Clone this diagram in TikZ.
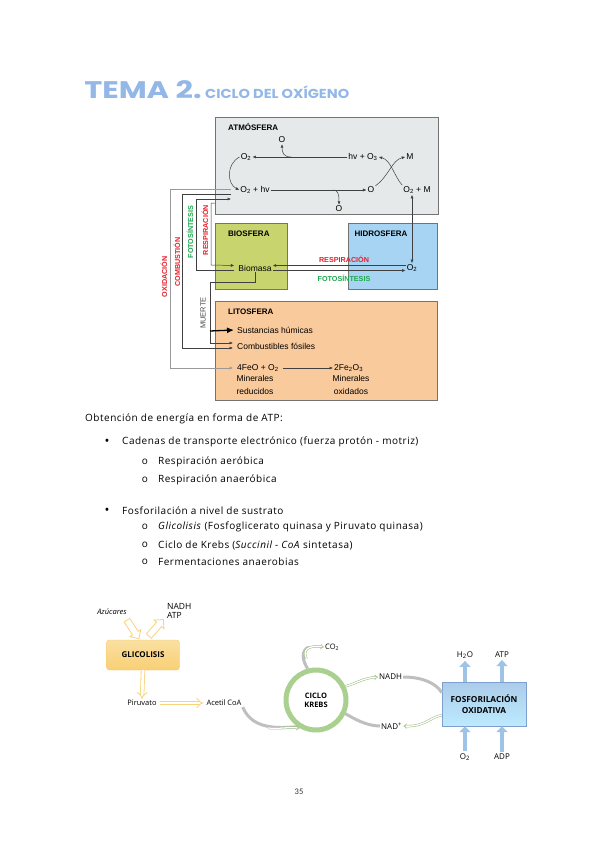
\documentclass[tikz,border=0pt]{standalone}
\usepackage{fontspec}
\setmainfont{Open Sans}
\newfontfamily\bodyfont{Open Sans}[LetterSpace=5]
\newfontfamily\lsans{Liberation Sans}
\newfontfamily\tfont{Poppins}
\newfontfamily\cfont{Carlito}
\usetikzlibrary{arrows.meta,calc,shapes.arrows}
\definecolor{atmfill}{HTML}{E6E9E9}
\definecolor{biofill}{HTML}{C8D56E}
\definecolor{hidfill}{HTML}{A6D4F2}
\definecolor{litfill}{HTML}{F9CA9C}
\definecolor{labred}{HTML}{E8202A}
\definecolor{labgreen}{HTML}{1FA84F}
\definecolor{ttl}{HTML}{93B7E6}
\definecolor{yel}{HTML}{F8D37A}
\definecolor{krg}{HTML}{A9D08E}
\definecolor{blu}{HTML}{9DC3E6}
\definecolor{bluedge}{HTML}{7F9FCF}
\begin{document}
\begin{tikzpicture}[x=1pt,y=-1pt,
  fs/.style={font=\lsans\fontsize{8.5}{10}\selectfont, inner sep=1pt},
  fsb/.style={font=\lsans\bfseries\fontsize{8}{9}\selectfont, inner sep=1pt},
  redl/.style={font=\lsans\bfseries\fontsize{7.2}{8}\selectfont, text=labred, inner sep=1pt},
  grnl/.style={font=\lsans\bfseries\fontsize{7.2}{8}\selectfont, text=labgreen, inner sep=1pt},
  sbox/.style={draw=black!55, line width=0.6pt, fill=#1, anchor=north west, inner sep=0pt},
  arr/.style={draw=black!75, line width=0.5pt, -{Latex[length=3.5pt,width=3pt]}},
  garrl/.style={draw=black!40, line width=0.5pt, -{Latex[length=3.5pt,width=3pt]}},
  body/.style={font=\bodyfont\fontsize{10}{12}\selectfont, inner sep=0pt, anchor=west},
  bul/.style={font=\bodyfont\fontsize{10}{12}\selectfont, inner sep=0pt},
  small/.style={font=\fontsize{7.5}{9}\selectfont, inner sep=1pt},
  yarr/.style={draw=yel, double=white, double distance=#1, line width=0.8pt, -{Implies}},
  yblock/.style={single arrow, draw=yel, line width=0.8pt, fill=white, minimum height=22pt, minimum width=13pt, single arrow head extend=3pt, inner sep=2.8pt},
  band/.style={draw=black!25, line width=3pt},
  grr/.style={draw=krg!90!black, double=white, double distance=1.3pt, line width=0.5pt, -{Implies}},
  barr/.style={draw=blu, line width=4.5pt, -{Triangle[length=6pt,width=11pt]}}
]
\useasboundingbox (0,0) rectangle (599,848);
\fill[white] (0,0) rectangle (599,848);

% ---------- title
\node[anchor=west, inner sep=0pt, xscale=1.27, font=\tfont\bfseries\fontsize{24}{26}\selectfont, text=ttl] (t1) at (84,90) {TEMA 2.};
\node[anchor=west, inner sep=0pt, xscale=1.12, font=\tfont\bfseries\fontsize{13}{15}\selectfont, text=ttl] (t2) at (205,92) {CICLO DEL OXÍGENO};

% ---------- spheres
\node[sbox=atmfill, minimum width=223pt, minimum height=97pt] (atm) at (215,117) {};
\node[sbox=biofill, minimum width=72pt, minimum height=66pt] (bio) at (215,223) {};
\node[sbox=hidfill, minimum width=89pt, minimum height=66pt] (hid) at (348,223) {};
\node[sbox=litfill, minimum width=222pt, minimum height=99pt] (lit) at (215,301) {};

\node[fsb, anchor=west] (atmL) at (227,127) {ATMÓSFERA};
\node[fsb, anchor=west] (bioL) at (227,234) {BIOSFERA};
\node[fsb] (hidL) at (381,234) {HIDROSFERA};
\node[fsb, anchor=west] (litL) at (227,312) {LITOSFERA};

% atmosphere content
\node[fs] (oA) at (282,140) {O};
\node[fs] (o2a) at (246,157) {O\textsubscript{2}};
\node[fs] (hvo3) at (363,157) {hv + O\textsubscript{3}};
\node[fs] (mA) at (410,157) {M};
\node[fs] (o2hv) at (255,190) {O\textsubscript{2} + hv};
\node[fs] (oB) at (371,190) {O};
\node[fs] (o2m) at (417,190) {O\textsubscript{2} + M};
\node[fs] (oC) at (339,209) {O};

\draw[arr] (hvo3.west) -- (o2a.east);
\coordinate (br1) at (291,157);
\draw[arr] (br1) .. controls (284,157) and (282,153) .. (oA.south);
\draw[arr] (o2a.west) .. controls (226,164) and (227,184) .. (o2hv.west);
\draw[arr] (o2hv.east) -- (oB.west);
\coordinate (br2) at (333,190);
\draw[arr] (br2) .. controls (338,190) and (339,194) .. (oC.north);
\draw[arr] (oB.north east) .. controls (389,176) and (392,160) .. (mA.west);
\draw[arr] (o2m.north west) .. controls (394,176) and (391,160) .. (hvo3.east);

% biosphere / hydrosphere
\node[fs] (biom) at (255,268) {Biomasa};
\node[fs] (o2h) at (412,268) {O\textsubscript{2}};
\draw[{Latex[length=3.5pt,width=3pt]}-{Latex[length=3.5pt,width=3pt]}, draw=black!75, line width=0.5pt] (o2h.north) -- (o2h.north |- o2m.south);
\draw[arr] ([yshift=2.5pt]o2h.west) -- ([yshift=2.5pt]biom.east);
\draw[arr] ([yshift=-2.5pt]biom.east) -- ([yshift=-2.5pt]o2h.west);
\node[redl] (respH) at (344,259) {RESPIRACIÓN};
\node[grnl] (fotoH) at (344,278) {FOTOSÍNTESIS};

% lithosphere content
\node[fs, anchor=west] (hum) at (236,330) {Sustancias húmicas};
\node[fs, anchor=west] (comb) at (236,346) {Combustibles fósiles};
\node[fs, anchor=west] (fe) at (236,368) {4FeO + O\textsubscript{2}};
\node[fs, anchor=west] (fe2) at (333,368) {2Fe\textsubscript{2}O\textsubscript{3}};
\draw[arr] ([xshift=3pt]fe.east) -- (fe2.west);
\node[fs, align=center, font=\lsans\fontsize{8.5}{12.5}\selectfont] (minr) at (255,385) {Minerales\\reducidos};
\node[fs, align=center, font=\lsans\fontsize{8.5}{12.5}\selectfont] (mino) at (351,385) {Minerales\\oxidados};

% side connectors
\coordinate (oxs) at (231,189);
\coordinate (cbs) at (231,194);
\coordinate (fts) at (231,199);
\coordinate (rss) at (215,203);
\draw[garrl] (oxs) -| (170,368) -- ([xshift=-3pt]fe.west);
\draw[arr] (cbs) -| (182,348) -- ([xshift=-3pt,yshift=-2pt]comb.west);
\draw[arr] ([xshift=-3pt,yshift=-2.5pt]biom.west) -| (196,199) -- (fts);
\draw[arr] (rss) -| (211,265) -- ([xshift=-3pt,yshift=2.5pt]biom.west);
\draw[arr] (biom.south) |- (210,282) |- ([xshift=-3pt,yshift=3pt]comb.west);
\draw[draw=black, line width=1.3pt, -{Latex[length=7pt,width=6pt]}] (210,331) -- ([xshift=-2pt]hum.west);

\node[redl, rotate=90] (oxL) at (164,277) {OXIDACIÓN};
\node[redl, rotate=90] (cbL) at (177,262) {COMBUSTIÓN};
\node[grnl, rotate=90] (ftL) at (190,232) {FOTOSÍNTESIS};
\node[redl, rotate=90] (rsL) at (205,230) {RESPIRACIÓN};
\node[fs, rotate=90, text=black!70, font=\lsans\fontsize{7.5}{9}\selectfont] (mtL) at (203,313) {MUERTE};

% ---------- body text
\node[body] (p0) at (85,419) {Obtención de energía en forma de ATP:};
\node[bul, font=\fontsize{13}{13}\selectfont] (u1) at (107,442) {•};
\node[body] (p1) at (122,442) {Cadenas de transporte electrónico (fuerza protón - motriz)};
\node[bul] (u2) at (145,462) {o};
\node[body] (p2) at (158,462) {Respiración aeróbica};
\node[bul] (u3) at (145,480) {o};
\node[body] (p3) at (158,480) {Respiración anaeróbica};
\node[bul, font=\fontsize{13}{13}\selectfont] (u4) at (107,511) {•};
\node[body] (p4) at (122,511) {Fosforilación a nivel de sustrato};
\node[bul] (u5) at (145,527) {o};
\node[body] (p5) at (158,527) {\textit{Glicolisis} (Fosfoglicerato quinasa y Piruvato quinasa)};
\node[bul] (u6) at (145,545) {o};
\node[body] (p6) at (158,545) {Ciclo de Krebs (\textit{Succinil - CoA} sintetasa)};
\node[bul] (u7) at (145,562) {o};
\node[body] (p7) at (158,562) {Fermentaciones anaerobias};

% ---------- bottom diagram
\node[small, font=\itshape\fontsize{7.5}{8}\selectfont] (azu) at (112,612) {Azúcares};
\node[small, anchor=west, align=left, font=\fontsize{8.5}{9.5}\selectfont] (nat) at (166,611) {NADH\\ATP};
\node[draw=yel!90!orange, rounded corners=3pt, top color=yel!70, bottom color=yel!95!orange, minimum width=73pt, minimum height=30pt, font=\bfseries\fontsize{8}{9}\selectfont] (glic) at (143,655) {GLICOLISIS};
\node[yblock, rotate=-57] (ya1) at (132,628) {};
\node[yblock, rotate=49] (ya2) at (155,629) {};
\node[small, font=\fontsize{7.5}{8}\selectfont] (pir) at (142,703) {Piruvato};
\node[small, font=\fontsize{7.5}{8}\selectfont] (ace) at (224,703) {Acetil CoA};
\draw[yarr=2.8pt] (glic.south) -- (pir.north);
\draw[yarr=2.8pt] ([xshift=2pt]pir.east) -- ([xshift=-2pt]ace.west);

\node[circle, draw=krg, line width=5pt, fill=white, minimum size=60pt, inner sep=0pt, align=center, font=\bfseries\fontsize{7.5}{9}\selectfont] (krebs) at (316,700) {CICLO\\KREBS};
\node[small, font=\fontsize{7.5}{8}\selectfont, anchor=west] (co2) at (324,647) {CO\textsubscript{2}};
\node[small, font=\fontsize{8}{9}\selectfont, anchor=west] (nadh) at (378,677) {NADH};
\node[small, font=\fontsize{8}{9}\selectfont, anchor=west] (nad) at (380,726) {NAD\textsuperscript{+}};
\node[draw=bluedge, top color=blu!85, bottom color=blu!120!black!100, minimum width=84pt, minimum height=44pt, align=center, font=\bfseries\fontsize{8.3}{10.5}\selectfont] (fosf) at (484,704) {FOSFORILACIÓN\\OXIDATIVA};

% acetil -> krebs
\draw[band] (ace.south east) .. controls (250,724) and (266,730) .. (krebs.235);
\coordinate (ka) at (268,728);
\draw[grr] (ka) .. controls (280,729) and (287,727) .. (krebs.240);
% co2
\draw[band] (krebs.105) .. controls (302,660) and (301,650) .. (309,647);
\draw[grr] ($(krebs.105)+(-1,-10)$) .. controls (302,650) and (308,645) .. (co2.west);
% nadh
\draw[grr] (krebs.25) .. controls (355,684) and (363,678) .. (nadh.west);
\draw[band] (nadh.east) .. controls (422,677) and (436,683) .. (fosf.165);
% nad+
\draw[band] (krebs.-25) .. controls (353,718) and (366,726) .. (nad.west);
\draw[grr] (fosf.195) .. controls (432,716) and (425,727) .. (nad.east);

% blue arrows
\node[small, font=\fontsize{8}{9}\selectfont] (h2o) at (465,655) {H\textsubscript{2}O};
\node[small, font=\fontsize{8}{9}\selectfont] (atp2) at (502,655) {ATP};
\node[small, font=\fontsize{8}{9}\selectfont] (o2b) at (465,757) {O\textsubscript{2}};
\node[small, font=\fontsize{8}{9}\selectfont] (adp) at (502,757) {ADP};
\draw[barr] (h2o.south |- fosf.north) -- ([yshift=-1pt]h2o.south);
\draw[barr] (atp2.south |- fosf.north) -- ([yshift=-1pt]atp2.south);
\draw[barr] ([yshift=1pt]o2b.north) -- (o2b.north |- fosf.south);
\draw[barr] ([yshift=1pt]adp.north) -- (adp.north |- fosf.south);

% page number
\node[font=\cfont\fontsize{8.5}{10}\selectfont, text=black!80] (pg) at (299,792) {35};
\end{tikzpicture}
\end{document}
